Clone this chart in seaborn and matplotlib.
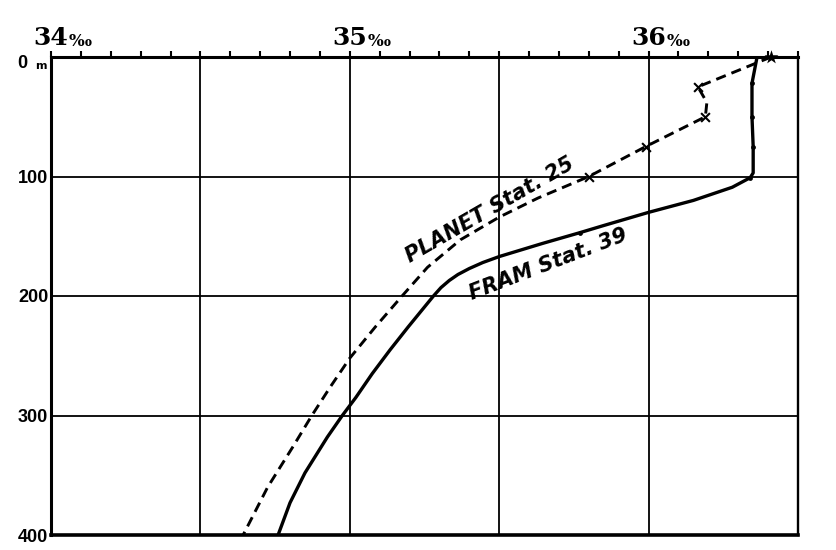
import numpy as np
import matplotlib.pyplot as plt
import seaborn as sns

# salinity (per mille) against depth (m)
planet_depth = [0, 25, 38, 50, 75, 100, 118, 134, 153, 176, 200, 226, 252, 276, 300, 326, 360, 400]
planet_sal = [36.41, 36.165, 36.195, 36.19, 35.99, 35.80, 35.63, 35.50, 35.37, 35.26, 35.175, 35.085,
              35.0, 34.935, 34.873, 34.81, 34.725, 34.643]
planet_marks = [1, 3, 4, 5]          # indices of the "x" observation marks

fram_depth = [0, 22, 50, 75, 97, 101, 109, 120, 130, 141, 147, 156, 167, 172, 177, 182, 187, 193, 200,
              226, 245, 265, 285, 300, 318, 348, 373, 400]
fram_sal = [36.363, 36.346, 36.346, 36.35, 36.35, 36.34, 36.28, 36.15, 36.0, 35.85, 35.77, 35.645, 35.50,
            35.445, 35.40, 35.362, 35.333, 35.305, 35.28, 35.195, 35.135, 35.075, 35.02, 34.975, 34.925,
            34.85, 34.80, 34.76]
fram_marks = [1, 2, 3, 5, 10]

x_ticks = [34, 35, 36]
y_ticks = [0, 100, 200, 300, 400]
y_labels = ["", "100", "200", "300", "400"]

sns.set_style("white")
plt.rcParams['font.family'] = ['DejaVu Sans']
plt.rcParams['text.color'] = 'black'
plt.rcParams['xtick.color'] = 'black'
plt.rcParams['ytick.color'] = 'black'

fig = plt.figure(figsize=(8.37, 5.5), dpi=100)
ax = fig.add_axes([51 / 837, 1 - 535 / 550, (798 - 51) / 837, (535 - 57) / 550])

# grid
for gx in [34.5, 35, 35.5, 36]:
    ax.axvline(gx, color="black", lw=1.3, zorder=1)
for gy in [100, 200, 300]:
    ax.axhline(gy, color="black", lw=1.3, zorder=1)

sns.lineplot(x=planet_sal, y=planet_depth, sort=False, estimator=None, ax=ax,
             color="black", lw=2.1, zorder=3)
ax.lines[-1].set_dashes([3.5, 2.1])
sns.lineplot(x=fram_sal, y=fram_depth, sort=False, estimator=None, ax=ax,
             color="black", lw=2.4, zorder=3)

sns.scatterplot(x=[planet_sal[i] for i in planet_marks], y=[planet_depth[i] for i in planet_marks],
                marker="x", s=40, color="black", linewidth=1.5, ax=ax, zorder=4)
sns.scatterplot(x=[planet_sal[0]], y=[planet_depth[0]], marker="*", s=110, color="black",
                linewidth=0, ax=ax, zorder=4, clip_on=False)
sns.scatterplot(x=[fram_sal[i] for i in fram_marks], y=[fram_depth[i] for i in fram_marks],
                marker="o", s=12, color="black", linewidth=0, ax=ax, zorder=4)

ax.set_xlim(34, 36.5)
ax.set_ylim(400, 0)

for s in ax.spines.values():
    s.set_visible(True)
    s.set_color("black")
ax.spines["top"].set_linewidth(2.2)
ax.spines["left"].set_linewidth(2.2)
ax.spines["bottom"].set_linewidth(2.6)
ax.spines["right"].set_linewidth(1.7)

# salinity scale on top
ax.xaxis.tick_top()
ax.set_xticks(np.arange(34, 36.51, 0.1), minor=True)
ax.set_xticks(x_ticks)
ax.set_xticklabels([])
ax.tick_params(axis="x", which="both", direction="out", length=4, width=1.5, top=True, bottom=False)
for v in x_ticks:
    ax.annotate(str(v), xy=(v, 0), xycoords="data", xytext=(0, 5), textcoords="offset points",
                ha="center", va="bottom", fontsize=18, fontweight="bold", family="DejaVu Serif",
                annotation_clip=False)
    ax.annotate("‰", xy=(v, 0), xycoords="data", xytext=(13, 5), textcoords="offset points",
                ha="left", va="bottom", fontsize=12, fontweight="bold", family="DejaVu Serif",
                annotation_clip=False)

# depth scale on the left
ax.set_yticks(y_ticks)
ax.set_yticklabels(y_labels, fontsize=13, fontweight="bold", family="Liberation Sans")
ax.tick_params(axis="y", length=0, pad=2)
ax.annotate("0", xy=(34, 0), xytext=(-24, -7), textcoords="offset pixels", ha="right", va="center",
            fontsize=13, fontweight="bold", family="Liberation Sans", annotation_clip=False)
ax.annotate("m", xy=(34, 0), xytext=(-4, -9), textcoords="offset pixels", ha="right", va="center",
            fontsize=8, fontweight="bold", annotation_clip=False)

ax.set_xlabel("")
ax.set_ylabel("")

# curve labels, hand lettered on the plate
ax.text(35.20, 172, "PLANET Stat. 25", rotation=30, rotation_mode="anchor", ha="left", va="baseline",
        fontsize=15, fontstyle="italic", fontweight="bold")
ax.text(35.41, 203, "FRAM Stat. 39", rotation=21, rotation_mode="anchor", ha="left", va="baseline",
        fontsize=15, fontstyle="italic", fontweight="bold")

fig.savefig("out.png", dpi=100)
